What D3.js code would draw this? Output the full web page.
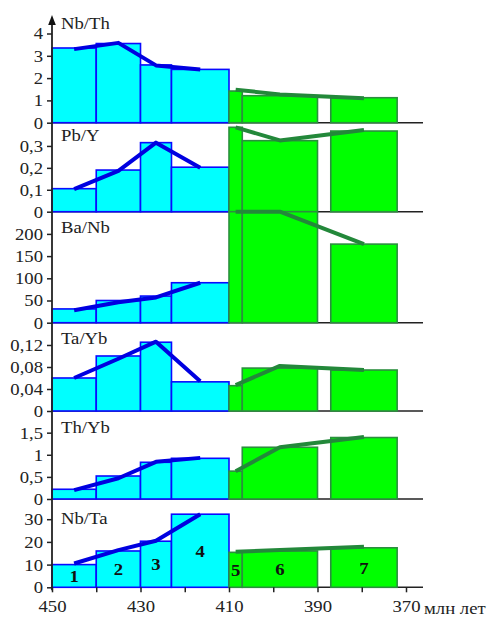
<!DOCTYPE html>
<html>
<head>
<meta charset="utf-8">
<script src="https://cdn.jsdelivr.net/npm/d3@7"></script>
<style>
  body { margin: 0; background: #fff; }
  svg { display: block; }
  svg text { font-family: "Liberation Serif", "Times New Roman", Times, serif !important; }
</style>
</head>
<body>
<svg id="chart" width="490" height="617"></svg>
<script>
// age intervals (Ma) of the seven stages, oldest first
var ageFrom = [450, 440, 430, 423, 410, 407, 387],
	ageTo   = [440, 430, 423, 410, 407, 390, 372],
	stageNames = ["1", "2", "3", "4", "5", "6", "7"],
	stageGroup = ["old", "old", "old", "old", "young", "young", "young"];

var ratioNames = ["Nb/Th", "Pb/Y", "Ba/Nb", "Ta/Yb", "Th/Yb", "Nb/Ta"];

// bar heights
var nbThBars = [3.35, 3.55, 2.59, 2.39, 1.42, 1.21, 1.12],
	pbYBars  = [0.105, 0.19, 0.315, 0.203, 0.385, 0.324, 0.368],
	baNbBars = [31, 50, 60, 90, 250, 250, 177],
	taYbBars = [0.06, 0.1, 0.125, 0.053, 0.046, 0.078, 0.0745],
	thYbBars = [0.22, 0.52, 0.83, 0.92, 0.63, 1.17, 1.39],
	nbTaBars = [10, 16, 20.3, 32.2, 15.4, 16, 17.4];

// trend line points (at interval midpoints)
var nbThLine = [3.3, 3.58, 2.57, 2.39, 1.48, 1.27, 1.1],
	pbYLine  = [0.103, 0.186, 0.315, 0.2, 0.385, 0.325, 0.373],
	baNbLine = [28, 46, 57, 90, 250, 250, 177],
	taYbLine = [0.06, 0.095, 0.126, 0.054, 0.047, 0.082, 0.0745],
	thYbLine = [0.2, 0.47, 0.84, 0.93, 0.63, 1.17, 1.4],
	nbTaLine = [10.5, 16.4, 20.5, 32.2, 15.7, 16.4, 17.9];

// y ticks
var nbThTicks = [0, 1, 2, 3, 4],
	pbYTicks  = [0, 0.1, 0.2, 0.3],
	baNbTicks = [0, 50, 100, 150, 200],
	taYbTicks = [0, 0.04, 0.08, 0.12],
	thYbTicks = [0, 0.5, 1, 1.5],
	nbTaTicks = [0, 10, 20, 30];

var xTicks = [450, 440, 430, 420, 410, 400, 390, 380, 370];
var xUnit = "млн лет";

var barsAll  = [nbThBars, pbYBars, baNbBars, taYbBars, thYbBars, nbTaBars],
	linesAll = [nbThLine, pbYLine, baNbLine, taYbLine, thYbLine, nbTaLine],
	ticksAll = [nbThTicks, pbYTicks, baNbTicks, taYbTicks, thYbTicks, nbTaTicks];

// layout
var panelMax = [4.74, 0.406, 250, 0.1605, 1.99, 38.9],
	panelBottom = [122.7, 211.7, 322.7, 411, 499, 587.3],
	panelTop = [17, 122.7, 211.7, 322.7, 411, 499],
	labelY = [29, 141, 233, 344, 433, 524];

var stretch = 1.1; // the source lettering is a bit wide
var colors = {
	old:   { fill: "#00ffff", stroke: "#0a0aff", line: "#0000e0" },
	young: { fill: "#00ff00", stroke: "#2b8f3e", line: "#23883a" }
};

var svg = d3.select("#chart");

var x = d3.scaleLinear().domain([450, 370]).range([52, 406]);
var axisLeftX = 52, axisRightX = 423;

function fmt(d) { return String(d).replace(".", ","); }

function wideText(sel, tx, ty) {
	return sel.append("text")
		.attr("transform", "translate(" + tx + "," + ty + ") scale(" + stretch + ",1)")
		.attr("font-size", 17).attr("fill", "#222");
}

ratioNames.forEach(function(name, p){
	var y = d3.scaleLinear().domain([0, panelMax[p]]).range([panelBottom[p], panelTop[p]]).clamp(true);
	var g = svg.append("g");

	// zero line
	g.append("line")
		.attr("x1", axisLeftX).attr("x2", axisRightX)
		.attr("y1", y(0)).attr("y2", y(0))
		.attr("stroke", "#222").attr("stroke-width", 1.6);

	var rows = barsAll[p].map(function(v, i){
		return { from: ageFrom[i], to: ageTo[i], v: v, t: linesAll[p][i], grp: stageGroup[i], name: stageNames[i] };
	});

	g.selectAll("rect").data(rows).enter().append("rect")
		.attr("x", function(d){ return x(d.from); })
		.attr("width", function(d){ return x(d.to) - x(d.from); })
		.attr("y", function(d){ return y(d.v); })
		.attr("height", function(d){ return y(0) - y(d.v); })
		.attr("fill", function(d){ return colors[d.grp].fill; })
		.attr("stroke", function(d){ return colors[d.grp].stroke; })
		.attr("stroke-width", 1.6);

	var line = d3.line()
		.x(function(d){ return x((d.from + d.to) / 2); })
		.y(function(d){ return y(d.t); });

	["old", "young"].forEach(function(grp){
		g.append("path")
			.datum(rows.filter(function(d){ return d.grp === grp; }))
			.attr("d", line)
			.attr("fill", "none")
			.attr("stroke", colors[grp].line)
			.attr("stroke-width", 4)
			.attr("stroke-linejoin", "round");
	});

	// y axis ticks
	var ax = g.append("g")
		.attr("transform", "translate(" + axisLeftX + ",0)")
		.call(d3.axisLeft(y).tickValues(ticksAll[p]).tickSize(5).tickPadding(4).tickFormat(fmt));
	ax.select(".domain").remove();
	ax.selectAll("line").attr("stroke", "#222").attr("stroke-width", 1.5);
	ax.selectAll("text")
		.attr("x", -9 / stretch)
		.attr("transform", "scale(" + stretch + ",1)")
		.attr("font-size", 17).attr("fill", "#222");

	wideText(g, 61, labelY[p]).text(name);

	// stage numbers in bottom panel
	if (p === ratioNames.length - 1) {
		rows.forEach(function(d){
			wideText(g, x((d.from + d.to) / 2), (y(0) + y(d.v)) / 2)
				.attr("dy", "0.35em")
				.attr("text-anchor", "middle")
				.attr("font-weight", "bold")
				.attr("fill", "#111")
				.text(d.name);
		});
	}
});

// vertical axis with arrow
svg.append("line")
	.attr("x1", axisLeftX).attr("x2", axisLeftX)
	.attr("y1", 22).attr("y2", panelBottom[5] + 3)
	.attr("stroke", "#222").attr("stroke-width", 1.8);
svg.append("path")
	.attr("d", "M" + axisLeftX + ",15L" + (axisLeftX - 3.8) + ",25L" + (axisLeftX + 3.8) + ",25Z")
	.attr("fill", "#111");

// x axis
var xa = svg.append("g")
	.attr("transform", "translate(0," + panelBottom[5] + ")")
	.call(d3.axisBottom(x).tickValues(xTicks).tickSize(5).tickPadding(8)
		.tickFormat(function(d){ return d % 20 === 10 ? d : ""; }));
xa.select(".domain").remove();
xa.selectAll("line").attr("stroke", "#222").attr("stroke-width", 1.5);
xa.selectAll("text")
	.attr("transform", "scale(" + stretch + ",1)")
	.attr("font-size", 17).attr("fill", "#222");

wideText(svg, 424, 614).text(xUnit);
</script>
</body>
</html>
